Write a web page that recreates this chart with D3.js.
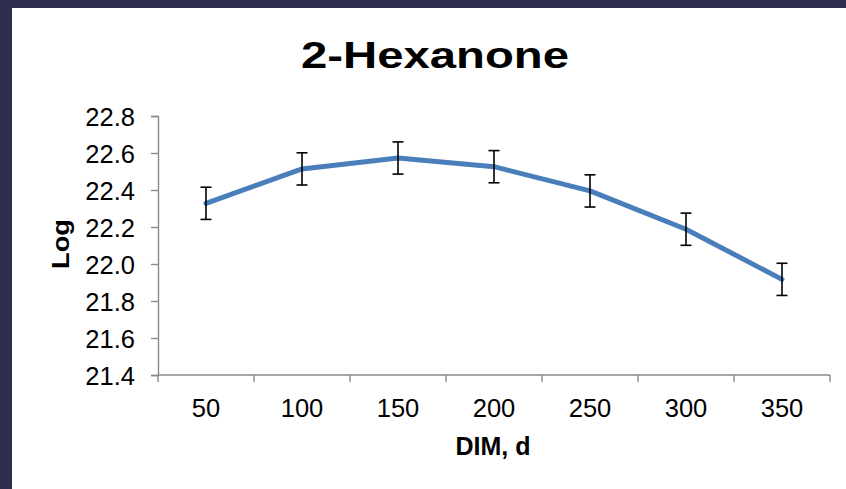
<!DOCTYPE html>
<html>
<head>
<meta charset="utf-8">
<script src="https://cdn.jsdelivr.net/npm/d3@7"></script>
<style>
  html, body { margin: 0; padding: 0; background: #2e2c4f; }
  svg { display: block; }
  text { font-family: "Liberation Sans", Arial, sans-serif; fill: #000; }
</style>
</head>
<body>
<svg id="chart" width="846" height="489"></svg>
<script>
const categories = [50, 100, 150, 200, 250, 300, 350];
const values = [22.328, 22.514, 22.573, 22.526, 22.395, 22.188, 21.917];
const errors = [0.087, 0.087, 0.087, 0.087, 0.087, 0.087, 0.087];
const yTicks = [21.4, 21.6, 21.8, 22.0, 22.2, 22.4, 22.6, 22.8];
const title = "2-Hexanone";
const xTitle = "DIM, d";
const yTitle = "Log";

(function () {
const svg = d3.select("#chart");
const W = 846, H = 489;

// background
svg.append("rect").attr("x", 0).attr("y", 0).attr("width", W).attr("height", H).attr("fill", "#2e2c4f");
svg.append("rect").attr("x", 12).attr("y", 8).attr("width", W - 12).attr("height", H - 8).attr("fill", "#ffffff");

const pLeft = 158, pRight = 830, pTop = 116, pBottom = 375;

const x = d3.scaleBand().domain(categories).range([pLeft, pRight]).padding(0);
const y = d3.scaleLinear().domain([21.4, 22.8]).range([pBottom, pTop]);

const axisColor = "#8a8a8a";

// y axis
const yAxis = d3.axisLeft(y).tickValues(yTicks).tickFormat(d3.format(".1f")).tickSize(7).tickPadding(16);
const gy = svg.append("g").attr("transform", `translate(${pLeft},0)`).call(yAxis);
gy.select(".domain").attr("stroke", axisColor).attr("stroke-width", 1.4);
gy.selectAll(".tick line").attr("stroke", axisColor).attr("stroke-width", 1.4);
gy.selectAll(".tick text").style("font-size", "25.5px").attr("fill", "#000")
  .style("font-family", '"Liberation Sans", Arial, sans-serif').attr("dy", "0.36em");

// x axis: ticks at band boundaries
const boundaries = categories.map(c => x(c)).concat([pRight]);
const gx = svg.append("g");
gx.append("line").attr("x1", pLeft).attr("x2", pRight).attr("y1", pBottom).attr("y2", pBottom)
  .attr("stroke", axisColor).attr("stroke-width", 1.4);
gx.selectAll("line.t").data(boundaries).enter().append("line").attr("class", "t")
  .attr("x1", d => d).attr("x2", d => d).attr("y1", pBottom).attr("y2", pBottom + 7)
  .attr("stroke", axisColor).attr("stroke-width", 1.4);
gx.selectAll("text").data(categories).enter().append("text")
  .attr("x", d => x(d) + x.bandwidth() / 2)
  .attr("y", 417)
  .attr("text-anchor", "middle")
  .style("font-size", "25.5px")
  .text(d => d);

const cx = d => x(d) + x.bandwidth() / 2;
const pts = categories.map((c, i) => ({ c, v: values[i], e: errors[i] }));

// line
const line = d3.line().x(d => cx(d.c)).y(d => y(d.v));
svg.append("path").datum(pts).attr("d", line)
  .attr("fill", "none").attr("stroke", "#4a7ebb").attr("stroke-width", 5)
  .attr("stroke-linejoin", "round").attr("stroke-linecap", "round");

// error bars
const eb = svg.append("g").attr("stroke", "#000").attr("stroke-width", 1.6);
pts.forEach(d => {
  const xx = cx(d.c);
  eb.append("line").attr("x1", xx).attr("x2", xx).attr("y1", y(d.v + d.e)).attr("y2", y(d.v - d.e));
  eb.append("line").attr("x1", xx - 5.5).attr("x2", xx + 5.5).attr("y1", y(d.v + d.e)).attr("y2", y(d.v + d.e));
  eb.append("line").attr("x1", xx - 5.5).attr("x2", xx + 5.5).attr("y1", y(d.v - d.e)).attr("y2", y(d.v - d.e));
});

// titles
svg.append("text").attr("x", 435).attr("y", 68).attr("text-anchor", "middle")
  .style("font-size", "37px").style("font-weight", "bold")
  .attr("textLength", 268).attr("lengthAdjust", "spacingAndGlyphs")
  .text(title);

svg.append("text").attr("x", 493).attr("y", 455).attr("text-anchor", "middle")
  .style("font-size", "25px").style("font-weight", "bold")
  .text(xTitle);

svg.append("text").attr("transform", "translate(69,244) rotate(-90)").attr("text-anchor", "middle")
  .style("font-size", "24px").style("font-weight", "bold")
  .attr("textLength", 50).attr("lengthAdjust", "spacingAndGlyphs")
  .text(yTitle);
})();
</script>
</body>
</html>
